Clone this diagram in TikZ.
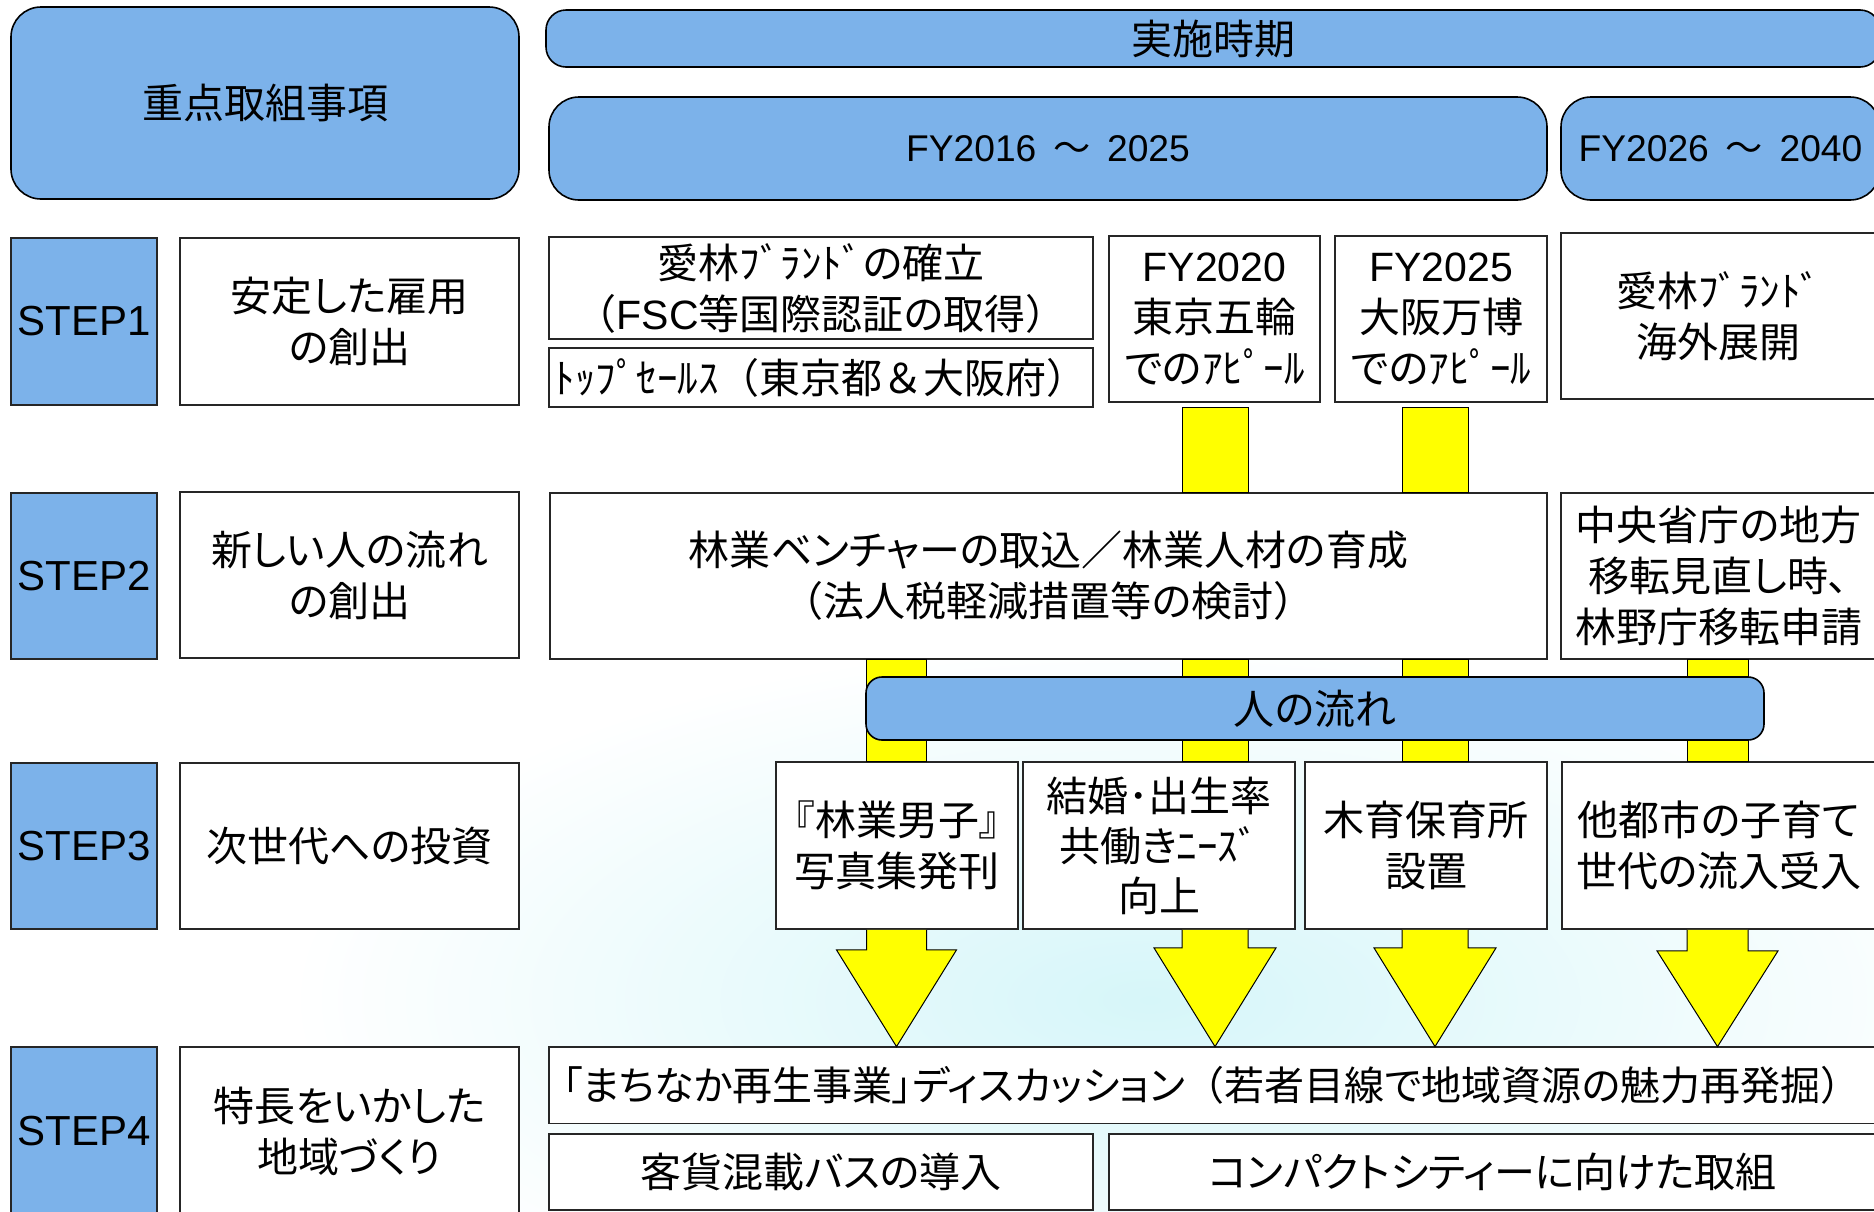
\documentclass[tikz,border=0pt]{standalone}
\usepackage{fontspec}
\setmainfont[RawFeature=+palt]{Noto Sans CJK JP}
\newfontfamily\cjkfull{Noto Sans CJK JP}
\newfontfamily\latf{Liberation Sans}
\newcommand\lpar{{\cjkfull （}}
\newcommand\rpar{{\cjkfull ）}}
\usetikzlibrary{calc}
\definecolor{myblue}{RGB}{124,178,234}
\definecolor{myyellow}{RGB}{255,255,0}
\definecolor{bgcyan}{RGB}{214,246,249}
% box from pixel corners: style, name, x1, y1, x2, y2, text
\newcommand\bx[7]{\node[#1, minimum width={(#5-#3)*0.5pt}, minimum height={(#6-#4)*0.5pt}] (#2) at ({(#3+#5)/2},{(#4+#6)/2}) {#7};}
\begin{document}
\begin{tikzpicture}[x=0.5pt,y=-0.5pt,
  txt/.style={font=\fontsize{20.5pt}{25.5pt}\selectfont},
  bluebox/.style={draw=black, line width=0.8pt, fill=myblue, rounded corners=15pt, inner sep=0pt, align=center, txt},
  wbox/.style={draw=black!85, line width=0.9pt, fill=white, inner sep=0pt, align=center, txt},
  openbox/.style={fill=white, inner sep=0pt, align=center, txt},
  edge3/.style={draw=black!85, line width=0.9pt},
  stepbox/.style={draw=black!85, line width=0.9pt, fill=myblue, inner sep=0pt, align=center, font=\latf\fontsize{21pt}{25pt}\selectfont},
  fytxt/.style={font=\fontsize{18.6pt}{22pt}\selectfont},
  ybar/.style={draw=black, line width=0.5pt, fill=myyellow},
  yarrow/.style={draw=black, line width=0.5pt, fill=myyellow, line join=miter}
]
\useasboundingbox (0,0) rectangle (1874,1211);
\clip (0,0) rectangle (1874,1211);
\fill[white] (0,0) rectangle (1874,1211);
\shade[inner color=bgcyan, outer color=white] (1150,1000) ellipse [x radius=430pt, y radius=180pt];

% column centres
\coordinate (k1) at (896.5,0);
\coordinate (k2) at (1215,0);
\coordinate (k3) at (1435,0);
\coordinate (k4) at (1717.5,0);

% header
\bx{bluebox}{jt}{11}{7}{519}{199}{重点取組事項}
\bx{bluebox, rounded corners=10pt}{jk}{546}{10}{1880}{67}{実施時期}
\bx{bluebox, fytxt}{fy1}{549}{97}{1547}{200}{{\latf FY2016}\hspace{0.45em}～\hspace{0.45em}{\latf 2025}}
\bx{bluebox, fytxt}{fy2}{1561}{97}{1880}{200}{{\latf FY2026}\hspace{0.45em}～\hspace{0.45em}{\latf 2040}}

% STEP labels
\bx{stepbox}{s1}{11}{238}{157}{405}{STEP1}
\bx{stepbox}{s2}{11}{493}{157}{659}{STEP2}
\bx{stepbox}{s3}{11}{763}{157}{929}{STEP3}
\bx{stepbox}{s4}{11}{1047}{157}{1215}{STEP4}

\bx{wbox}{d1}{180}{238}{519}{405}{安定した雇用\\の創出}
\bx{wbox}{d2}{180}{492}{519}{658}{新しい人の流れ\\の創出}
\bx{wbox}{d3}{180}{763}{519}{929}{次世代への投資}
\bx{wbox}{d4}{180}{1047}{519}{1215}{特長をいかした\\地域づくり}

% row 1
\bx{wbox}{a1}{549}{237}{1093}{339}{愛林ﾌﾞﾗﾝﾄﾞの確立\\\lpar{\latf FSC}等国際認証の取得\rpar}
\bx{wbox}{a2}{549}{348}{1093}{407}{ﾄｯﾌﾟｾｰﾙｽ\lpar 東京都{\cjkfull ＆}大阪府\rpar}
\bx{wbox}{a3}{1109}{236}{1320}{402}{{\latf FY2020}\\東京五輪\\でのｱﾋﾟｰﾙ}
\bx{wbox}{a4}{1335}{236}{1547}{402}{{\latf FY2025}\\大阪万博\\でのｱﾋﾟｰﾙ}
\bx{wbox}{a5}{1561}{233}{1876}{399}{愛林ﾌﾞﾗﾝﾄﾞ\\海外展開}

% row 2
\bx{wbox}{b1}{550}{493}{1547}{659}{林業ベンチャーの取込／林業人材の育成\\\lpar 法人税軽減措置等の検討\rpar}
\bx{wbox}{b2}{1561}{493}{1876}{659}{中央省庁の地方\\移転見直し時、\\林野庁移転申請}

% row 3
\bx{wbox}{c1}{776}{762}{1018}{929}{『林業男子』\\写真集発刊}
\bx{wbox, font=\fontsize{20.5pt}{25pt}\selectfont}{c2}{1023}{762}{1295}{929}{結婚･出生率\\共働きﾆｰｽﾞ\\向上}
\bx{wbox}{c3}{1305}{762}{1547}{929}{木育保育所\\設置}
\bx{wbox}{c4}{1562}{762}{1876}{929}{他都市の子育て\\世代の流入受入}

% row 4 (e1 runs off the right edge: draw its three visible sides)
\bx{openbox, font=\fontsize{20pt}{25pt}\selectfont}{e1}{549}{1047}{1874}{1123}{「まちなか再生事業」ディスカッション\lpar 若者目線で地域資源の魅力再発掘\rpar}
\draw[edge3] ([xshift=2pt]e1.north east) -- (e1.north west) -- (e1.south west) -- ([xshift=2pt]e1.south east);
\bx{wbox}{e2}{549}{1134}{1093}{1210}{客貨混載バスの導入}
\bx{wbox}{e3}{1109}{1134}{1876}{1210}{コンパクトシティーに向けた取組}

% yellow bars row1 -> row2
\filldraw[ybar] ($(a3.south -| k2)+(-33,5)$) rectangle ($(b1.north -| k2)+(33,0)$);
\filldraw[ybar] ($(a4.south -| k3)+(-33,5)$) rectangle ($(b1.north -| k3)+(33,0)$);
% yellow bars row2 -> row3
\filldraw[ybar] ($(b1.south -| k1)+(-30,0)$) rectangle ($(c1.north -| k1)+(30,0)$);
\filldraw[ybar] ($(b1.south -| k2)+(-33,0)$) rectangle ($(c2.north -| k2)+(33,0)$);
\filldraw[ybar] ($(b1.south -| k3)+(-33,0)$) rectangle ($(c3.north -| k3)+(33,0)$);
\filldraw[ybar] ($(b2.south -| k4)+(-30.5,0)$) rectangle ($(c4.north -| k4)+(30.5,0)$);

% people-flow bar on top
\bx{bluebox, rounded corners=8pt}{hn}{866}{677}{1764}{740}{人の流れ}

% big arrows row3 -> row4
\coordinate (t1) at (c1.south -| k1);
\coordinate (t2) at (c2.south -| k2);
\coordinate (t3) at (c3.south -| k3);
\coordinate (t4) at (c4.south -| k4);
\filldraw[yarrow] ($(t1)+(-30,0)$) -- ($(t1)+(-30,20)$) -- ($(t1)+(-60,20)$) -- (e1.north -| k1) -- ($(t1)+(60,20)$) -- ($(t1)+(30,20)$) -- ($(t1)+(30,0)$);
\filldraw[yarrow] ($(t2)+(-33,0)$) -- ($(t2)+(-33,18)$) -- ($(t2)+(-61,18)$) -- (e1.north -| k2) -- ($(t2)+(61,18)$) -- ($(t2)+(33,18)$) -- ($(t2)+(33,0)$);
\filldraw[yarrow] ($(t3)+(-33,0)$) -- ($(t3)+(-33,18)$) -- ($(t3)+(-61,18)$) -- (e1.north -| k3) -- ($(t3)+(61,18)$) -- ($(t3)+(33,18)$) -- ($(t3)+(33,0)$);
\filldraw[yarrow] ($(t4)+(-30.5,0)$) -- ($(t4)+(-30.5,21)$) -- ($(t4)+(-60.5,21)$) -- (e1.north -| k4) -- ($(t4)+(60.5,21)$) -- ($(t4)+(30.5,21)$) -- ($(t4)+(30.5,0)$);
\end{tikzpicture}
\end{document}
